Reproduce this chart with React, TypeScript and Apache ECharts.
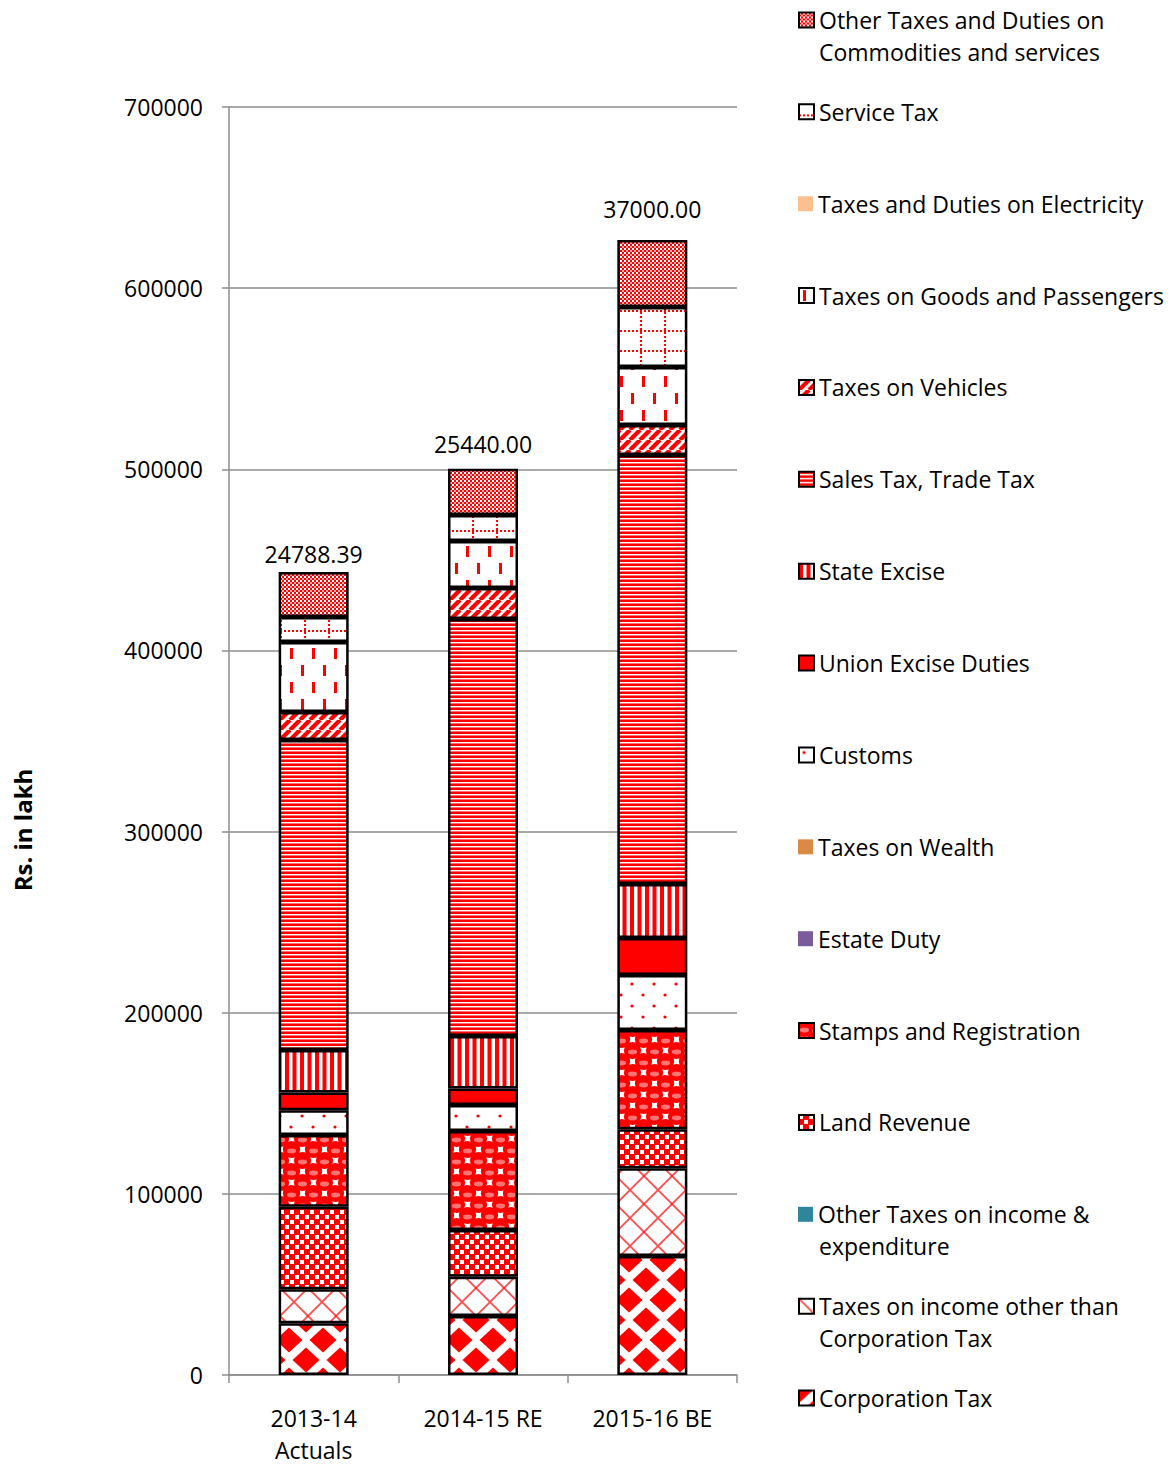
import { useEffect, useRef } from "react";
import * as echarts from "echarts";

const FONT = "'Open Sans', sans-serif";
const RED = "#ff0000";
const FS = 23;

// Categories on the x axis
const categories = ["2013-14\nActuals", "2014-15 RE", "2015-16 BE"];

// Y axis scale (Rs. in lakh)
const yMin = 0;
const yMax = 700000;
const yStep = 100000;

// Series values, listed from the bottom of each stack upwards
const corporationTax = [28500, 32600, 65700];
const incomeOtherThanCorporation = [18800, 21700, 48400];
const otherIncomeExpenditure = [0, 0, 0];
const landRevenue = [45600, 25800, 21500];
const stampsRegistration = [39600, 54600, 54900];
const estateDuty = [0, 0, 0];
const taxesOnWealth = [0, 0, 0];
const customs = [13600, 14400, 30300];
const unionExcise = [9800, 9000, 20500];
const stateExcise = [23500, 29100, 29800];
const salesTax = [171200, 230200, 236800];
const taxesOnVehicles = [15400, 17100, 16600];
const goodsPassengers = [38700, 25900, 32000];
const electricityDuties = [0, 0, 0];
const serviceTax = [13800, 14400, 33100];
const otherCommodities = [24788.39, 25440.0, 37000.0];

type Fill = string | { image: HTMLCanvasElement; repeat: string; imageWidth: number; imageHeight: number };

function tile(w: number, h: number, draw: (c: CanvasRenderingContext2D) => void): Fill {
  const cv = document.createElement("canvas");
  cv.width = w;
  cv.height = h;
  const c = cv.getContext("2d") as CanvasRenderingContext2D;
  c.fillStyle = "#ffffff";
  c.fillRect(0, 0, w, h);
  c.fillStyle = RED;
  c.strokeStyle = RED;
  draw(c);
  return { image: cv, repeat: "repeat", imageWidth: w, imageHeight: h };
}

function wrap(w: number, h: number, fn: (dx: number, dy: number) => void) {
  for (const dx of [-w, 0, w]) for (const dy of [-h, 0, h]) fn(dx, dy);
}

function diamond(c: CanvasRenderingContext2D, cx: number, cy: number, rx: number, ry: number) {
  c.beginPath();
  c.moveTo(cx, cy - ry);
  c.lineTo(cx + rx, cy);
  c.lineTo(cx, cy + ry);
  c.lineTo(cx - rx, cy);
  c.closePath();
  c.fill();
}

function buildPatterns() {
  const diamonds = tile(34, 40, (c) => {
    wrap(34, 40, (dx, dy) => {
      diamond(c, 17 + dx, 20 + dy, 13.5, 12.5);
      diamond(c, dx, dy, 13.5, 12.5);
    });
  });
  const lattice = tile(28, 28, (c) => {
    c.strokeStyle = "rgba(255,0,0,0.7)";
    c.lineWidth = 1.8;
    wrap(28, 28, (dx, dy) => {
      c.beginPath();
      c.moveTo(dx, dy);
      c.lineTo(dx + 28, dy + 28);
      c.moveTo(dx + 28, dy);
      c.lineTo(dx, dy + 28);
      c.stroke();
    });
  });
  const checker = tile(10, 10, (c) => {
    c.fillRect(0, 0, 10, 10);
    c.fillStyle = "#ffffff";
    c.fillRect(0, 0, 4, 4);
    c.fillRect(5, 5, 4, 4);
  });
  const spheres = tile(22, 22, (c) => {
    const centres = [
      [5.5, 5.5],
      [16.5, 16.5],
    ];
    wrap(22, 22, (dx, dy) => {
      for (const [x, y] of centres) {
        c.fillStyle = RED;
        c.beginPath();
        c.arc(x + dx, y + dy, 8.6, 0, Math.PI * 2);
        c.fill();
      }
    });
    wrap(22, 22, (dx, dy) => {
      for (const [x, y] of centres) {
        c.fillStyle = "rgba(255,255,255,0.45)";
        c.beginPath();
        c.ellipse(x + dx, y + dy + 1.5, 4.6, 2.4, 0, 0, Math.PI * 2);
        c.fill();
      }
    });
  });
  const dots = tile(22, 22, (c) => {
    for (const [x, y] of [
      [5, 5],
      [16, 16],
    ]) {
      c.beginPath();
      c.arc(x, y, 1.6, 0, Math.PI * 2);
      c.fill();
    }
  });
  const vStripes = tile(15, 4, (c) => {
    c.fillRect(0, 0, 4, 4);
    c.fillRect(7.5, 0, 4, 4);
  });
  const hStripes = tile(4, 4, (c) => {
    c.fillRect(0, 0, 4, 2);
    c.fillStyle = "#ff7070";
    c.fillRect(0, 3, 4, 1);
  });
  const diagonal = tile(10, 10, (c) => {
    c.lineWidth = 4.2;
    for (const k of [-10, 0, 10]) {
      c.beginPath();
      c.moveTo(k, 10);
      c.lineTo(k + 10, 0);
      c.stroke();
    }
  });
  const dashes = tile(22, 34, (c) => {
    c.fillRect(4, 2, 3, 11);
    c.fillRect(15, 19, 3, 11);
  });
  const dottedGrid = tile(24, 20, (c) => {
    for (let y = 0; y < 20; y += 4) c.fillRect(16, y, 2, 2);
    for (let x = 0; x < 24; x += 4) c.fillRect(x, 10, 2, 2);
  });
  const fineChecker = tile(4, 4, (c) => {
    c.fillRect(0, 0, 4, 4);
    c.fillStyle = "#ffffff";
    c.fillRect(0, 0, 2, 2);
    c.fillStyle = "#ffb0b0";
    c.fillRect(2, 2, 2, 2);
  });
  return { diamonds, lattice, checker, spheres, dots, vStripes, hStripes, diagonal, dashes, dottedGrid, fineChecker };
}

// Long legend entries split over two lines
const legendWraps: Record<string, [string, string]> = {
  "Other Taxes and Duties on Commodities and services": ["Other Taxes and Duties on", "Commodities and services"],
  "Other Taxes on income & expenditure": ["Other Taxes on income &", "expenditure"],
  "Taxes on income other than Corporation Tax": ["Taxes on income other than", "Corporation Tax"],
};

// Extra gap between the top segment and its value label, per bar
const labelLift = [7, 13, 19];

export default function App() {
  const ref = useRef<HTMLDivElement>(null);

  useEffect(() => {
    if (!ref.current) return;
    const chart = echarts.init(ref.current, undefined, { renderer: "svg" });
    const p = buildPatterns();

    const defs: { name: string; data: number[]; fill: Fill; plain?: boolean }[] = [
      { name: "Corporation Tax", data: corporationTax, fill: p.diamonds },
      { name: "Taxes on income other than Corporation Tax", data: incomeOtherThanCorporation, fill: p.lattice },
      { name: "Other Taxes on income & expenditure", data: otherIncomeExpenditure, fill: "#2f8599", plain: true },
      { name: "Land Revenue", data: landRevenue, fill: p.checker },
      { name: "Stamps and Registration", data: stampsRegistration, fill: p.spheres },
      { name: "Estate Duty", data: estateDuty, fill: "#7a5c9a", plain: true },
      { name: "Taxes on Wealth", data: taxesOnWealth, fill: "#db8a45", plain: true },
      { name: "Customs", data: customs, fill: p.dots },
      { name: "Union Excise Duties", data: unionExcise, fill: RED },
      { name: "State Excise", data: stateExcise, fill: p.vStripes },
      { name: "Sales Tax, Trade Tax", data: salesTax, fill: p.hStripes },
      { name: "Taxes on Vehicles", data: taxesOnVehicles, fill: p.diagonal },
      { name: "Taxes on Goods and Passengers", data: goodsPassengers, fill: p.dashes },
      { name: "Taxes and Duties on Electricity", data: electricityDuties, fill: "#fac090", plain: true },
      { name: "Service Tax", data: serviceTax, fill: p.dottedGrid },
      { name: "Other Taxes and Duties on Commodities and services", data: otherCommodities, fill: p.fineChecker },
    ];
    const topName = defs[defs.length - 1].name;

    const series = defs.map((d) => ({
      name: d.name,
      type: "bar",
      stack: "total",
      barWidth: 70,
      itemStyle: {
        color: d.fill,
        borderColor: "#000",
        borderWidth: d.plain ? 0 : 2.5,
      },
      emphasis: { disabled: true },
      data:
        d.name === topName
          ? d.data.map((v, i) => ({ value: v, label: { distance: labelLift[i] } }))
          : d.data,
      label:
        d.name === topName
          ? {
              show: true,
              position: "top",
              formatter: (prm: any) => Number(prm.value).toFixed(2),
              fontSize: FS,
              fontFamily: FONT,
              color: "#000",
            }
          : { show: false },
    }));

    // One legend block per entry, stacked top to bottom in reverse stack order
    const legendOrder = [...defs].reverse();
    const firstY = 20;
    const stepY = 91.87;
    const legend = legendOrder.map((d, i) => ({
      data: [d.name],
      left: 798,
      top: firstY + i * stepY - 15,
      orient: "vertical",
      padding: 0,
      itemGap: 0,
      itemWidth: 15,
      itemHeight: 15,
      icon: "rect",
      formatter: (n: string) => (legendWraps[n] ? legendWraps[n][0] : n),
      textStyle: { fontSize: FS, fontFamily: FONT, color: "#000", lineHeight: 30 },
      itemStyle: d.plain ? { borderWidth: 0 } : { borderColor: "#000", borderWidth: 2 },
    }));

    const graphic: any[] = [
      {
        type: "text",
        x: 22,
        y: 830,
        rotation: Math.PI / 2,
        style: {
          text: "Rs. in lakh",
          fontSize: 24,
          fontWeight: "bold",
          fontFamily: FONT,
          fill: "#000",
          align: "center",
          verticalAlign: "middle",
        },
      },
    ];
    legendOrder.forEach((d, i) => {
      const w = legendWraps[d.name];
      if (!w) return;
      graphic.push({
        type: "text",
        x: 819,
        y: firstY + i * stepY + 32,
        style: {
          text: w[1],
          fontSize: FS,
          fontFamily: FONT,
          fill: "#000",
          align: "left",
          verticalAlign: "middle",
        },
      });
    });

    chart.setOption({
      animation: false,
      backgroundColor: "#fff",
      grid: { left: 229, right: 439, top: 107, bottom: 97, containLabel: false },
      legend,
      graphic,
      xAxis: {
        type: "category",
        data: categories,
        axisLine: { show: true, lineStyle: { color: "#8e8e8e", width: 1.5 } },
        axisTick: { show: true, length: 8, alignWithLabel: false, interval: 0, lineStyle: { color: "#8e8e8e", width: 1.5 } },
        axisLabel: { fontSize: FS, fontFamily: FONT, color: "#000", lineHeight: 32, margin: 27, interval: 0 },
      },
      yAxis: {
        type: "value",
        min: yMin,
        max: yMax,
        interval: yStep,
        axisLine: { show: true, lineStyle: { color: "#8e8e8e", width: 1.5 } },
        axisTick: { show: true, length: 7, lineStyle: { color: "#8e8e8e", width: 1.5 } },
        axisLabel: { fontSize: FS, fontFamily: FONT, color: "#000", margin: 26, formatter: (v: number) => String(v) },
        splitLine: { show: true, lineStyle: { color: "#8e8e8e", width: 1.5 } },
      },
      series,
    } as any);

    return () => chart.dispose();
  }, []);

  return (
    <div
      ref={ref}
      style={{ position: "absolute", left: 0, top: 0, width: 1176, height: 1472, background: "#fff" }}
    />
  );
}
